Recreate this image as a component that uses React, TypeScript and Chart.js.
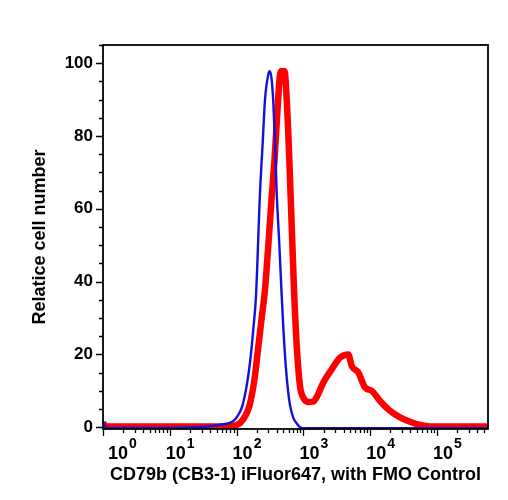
import React, { useEffect, useRef } from "react";
import { Chart, registerables } from "chart.js";

Chart.register(...registerables);

// ---- data ----
const X_TITLE = "CD79b (CB3-1) iFluor647, with FMO Control";
const Y_TITLE = "Relatice cell number";
const X_MIN = 1;
const X_MAX = 579400;
const Y_MIN = -0.5;
const Y_MAX = 105;
const X_DECADES = [0, 1, 2, 3, 4, 5];
const Y_TICKS = [0, 20, 40, 60, 80, 100];
const Y_MINOR_TICKS = [5, 10, 15, 25, 30, 35, 45, 50, 55, 65, 70, 75, 85, 90, 95, 105];

// FMO control (blue)
const FMO_X = [1, 1.12, 10, 31.6, 44.7, 63.1, 79.4, 93.3, 105.9, 117.5, 125.9, 141.3, 158.5, 177.8, 195.0, 223.9, 245.5, 266.1, 298.5, 313.3, 335.0, 354.8, 375.8, 398.1, 436.5, 467.7, 501.2, 543.3, 588.8, 631.0, 707.9, 794.3, 891.3, 1000, 10000, 579400];
const FMO_Y = [1.5, -0.2, -0.2, 0.1, 0.4, 0.8, 1.2, 2.0, 3.4, 5.0, 6.8, 11.3, 17.7, 26.9, 36.0, 64.4, 78.0, 90.0, 97.0, 97.8, 95.5, 89.0, 78.0, 64.4, 50.0, 38.0, 27.0, 17.0, 10.0, 6.0, 2.5, 1.0, 0.0, -0.3, -0.3, -0.3];

// CD79b stained (red)
const CD79B_X = [1, 1.12, 10, 50.1, 79.6, 105.9, 125.9, 149.6, 164.3, 185.3, 209.0, 235.9, 266.1, 295.1, 332.9, 369.2, 409.5, 438.8, 462.1, 521.2, 562.3, 615.2, 668.3, 722.8, 794.3, 889.2, 997.7, 1183, 1393, 1656, 1986, 2655, 3532, 4699, 5284, 6637, 8356, 10520, 14030, 19770, 27930, 39450, 55720, 78520, 579400];
const CD79B_Y = [1.2, 0.2, 0.2, 0.2, 0.3, 0.8, 2.2, 4.9, 7.7, 13.2, 21.4, 29.6, 37.9, 48.8, 62.5, 73.5, 87.2, 95.5, 97.8, 97.8, 90.0, 73.5, 55.2, 37.9, 22.3, 11.3, 8.1, 6.9, 7.0, 9.0, 12.3, 15.9, 19.1, 20.0, 16.8, 15.0, 10.9, 10.0, 7.2, 4.5, 2.7, 1.5, 0.6, 0.2, 0.2];

const FONT = '"Liberation Sans", Arial, Helvetica, sans-serif';

const axesPlugin = {
  id: "flowAxes",
  afterDraw(chart: any) {
    const { ctx, chartArea: a, scales } = chart;
    const x = scales.x;
    const y = scales.y;
    ctx.save();
    ctx.strokeStyle = "#000";
    ctx.lineWidth = 1.8;
    ctx.strokeRect(a.left, a.top, a.right - a.left, a.bottom - a.top);
    ctx.lineWidth = 1.3;
    ctx.beginPath();
    Y_TICKS.forEach((v) => {
      const py = Math.round(y.getPixelForValue(v)) + 0.5;
      ctx.moveTo(a.left - 7, py);
      ctx.lineTo(a.left, py);
    });
    Y_MINOR_TICKS.forEach((v) => {
      if (v > Y_MAX) return;
      const py = Math.round(y.getPixelForValue(v)) + 0.5;
      ctx.moveTo(a.left - 4, py);
      ctx.lineTo(a.left, py);
    });
    X_DECADES.forEach((d) => {
      for (let m = 1; m <= 9; m++) {
        const v = m * Math.pow(10, d);
        if (v > X_MAX) break;
        const px = Math.round(x.getPixelForValue(v)) + 0.5;
        const len = m === 1 ? 7 : 4;
        ctx.moveTo(px, a.bottom);
        ctx.lineTo(px, a.bottom + len);
      }
    });
    ctx.stroke();

    ctx.fillStyle = "#000";
    ctx.textBaseline = "alphabetic";
    ctx.textAlign = "left";
    X_DECADES.forEach((d) => {
      const px = x.getPixelForValue(Math.pow(10, d));
      ctx.font = `bold 18px ${FONT}`;
      const w = ctx.measureText("10").width;
      const left = Math.max(px - 4, a.left + 5);
      ctx.fillText("10", left, a.bottom + 30);
      ctx.font = `bold 14px ${FONT}`;
      ctx.fillText(String(d), left + w + 1, a.bottom + 19);
    });
    ctx.restore();
  },
};

export default function App() {
  const ref = useRef<HTMLCanvasElement | null>(null);
  useEffect(() => {
    if (!ref.current) return;
    const chart = new Chart(ref.current, {
      type: "line",
      data: {
        datasets: [
          {
            label: "FMO Control",
            data: FMO_X.map((v, i) => ({ x: v, y: FMO_Y[i] })),
            borderColor: "#1212d8",
            borderWidth: 2.4,
            pointRadius: 0,
            cubicInterpolationMode: "monotone",
            fill: false,
          },
          {
            label: "CD79b (CB3-1) iFluor647",
            data: CD79B_X.map((v, i) => ({ x: v, y: CD79B_Y[i] })),
            borderColor: "#ff0000",
            borderWidth: 6.5,
            pointRadius: 0,
            cubicInterpolationMode: "monotone",
            fill: false,
          },
        ],
      },
      options: {
        animation: false,
        responsive: false,
        maintainAspectRatio: false,
        layout: { padding: { top: 45, right: 20, left: 0, bottom: 0 } },
        plugins: { legend: { display: false }, tooltip: { enabled: false } },
        scales: {
          x: {
            type: "logarithmic",
            min: X_MIN,
            max: X_MAX,
            grid: { display: false, drawTicks: false },
            border: { display: false },
            ticks: { display: false },
            afterBuildTicks: (s: any) => {
              s.ticks = X_DECADES.map((d) => ({ value: Math.pow(10, d) }));
            },
            title: {
              display: true,
              text: X_TITLE,
              color: "#000",
              font: { family: FONT, size: 18, weight: "bold" },
              padding: { top: 0, bottom: 14 },
            },
            afterFit: (s: any) => {
              s.height = 71;
            },
          },
          y: {
            type: "linear",
            min: Y_MIN,
            max: Y_MAX,
            grid: { display: false, drawTicks: false },
            border: { display: false },
            afterBuildTicks: (s: any) => {
              s.ticks = Y_TICKS.map((v) => ({ value: v }));
            },
            ticks: {
              color: "#000",
              padding: 10,
              font: { family: FONT, size: 17, weight: "bold" },
            },
            title: {
              display: true,
              text: Y_TITLE,
              color: "#000",
              font: { family: FONT, size: 18, weight: "bold" },
              padding: { top: 29, bottom: 0 },
            },
            afterFit: (s: any) => {
              s.width = 103;
            },
          },
        },
      },
      plugins: [axesPlugin],
    } as any);
    return () => chart.destroy();
  }, []);
  return (
    <div style={{ position: "absolute", left: 0, top: 0, width: 508, height: 500, background: "#fff" }}>
      <canvas ref={ref} width={508} height={500} />
    </div>
  );
}
